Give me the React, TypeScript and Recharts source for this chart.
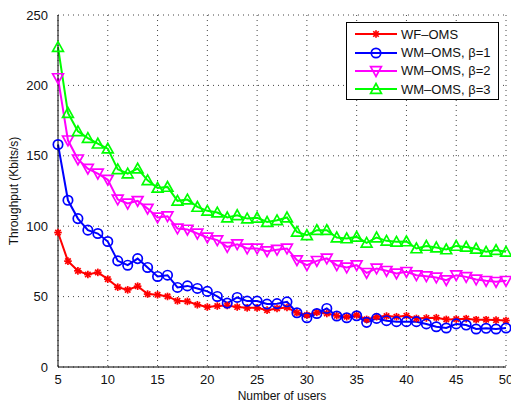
import React from "react"
import {
  CartesianGrid,
  Line,
  LineChart,
  XAxis,
  YAxis,
} from "recharts"

const users = [
  5, 6, 7, 8, 9, 10, 11, 12, 13, 14, 15, 16, 17, 18, 19, 20, 21, 22, 23, 24, 25, 26, 27,
  28, 29, 30, 31, 32, 33, 34, 35, 36, 37, 38, 39, 40, 41, 42, 43, 44, 45, 46, 47, 48, 49, 50,
]

const wfOms = [
  95.5, 75.2, 68.3, 65.7, 67.2, 62.4, 56.7, 54.8, 57.4, 51.8, 51.3, 50.1, 47, 46.6, 44.2,
  42.6, 43.3, 43.7, 42.6, 42, 42, 40.4, 41.6, 42.3, 38.5, 36.9, 38.8, 38, 36.4, 35.7, 36.9,
  33.8, 35.7, 36.2, 35.7, 36.4, 34.5, 34.8, 35, 33.8, 34, 34.3, 33.6, 33.6, 33.3, 33,
]

const wmBeta1 = [
  158, 118.4, 105.4, 97.2, 94.8, 89.1, 75.4, 72.3, 77, 70.7, 64.3, 65.2, 56.5, 57.6, 55.8,
  53.7, 50.1, 45.4, 49.4, 46.8, 46.8, 44.7, 45, 46.3, 38.5, 35, 38, 41.6, 36.2, 35, 36.4,
  31.7, 34.5, 32.9, 32.2, 32.2, 32.2, 30.6, 28.6, 27.7, 30.6, 29.8, 27, 27.5, 27, 27.7,
]

const wmBeta2 = [
  205.2, 161, 147.5, 140.9, 137.4, 133.1, 119, 116.1, 118, 112.5, 106.2, 107.1, 98.4, 97.6,
  94.8, 92, 90.1, 85.3, 87.2, 84.2, 84.2, 82.3, 83.3, 84.2, 75.9, 72.3, 75.4, 77.1, 72.3,
  70.7, 72.3, 66.9, 70, 68.3, 66.5, 67.6, 65.2, 64.5, 63.6, 61.7, 65.2, 64, 62.2, 61.2,
  60.5, 61.2,
]

const wmBeta3 = [
  227.2, 180.4, 167.4, 162.6, 158.6, 155.1, 140.4, 137.4, 140.9, 132.6, 127.2, 127.9, 118,
  118.9, 113.7, 110.9, 109.7, 106.2, 107.8, 105.4, 106, 103, 104.2, 106.2, 96, 93.6, 97.2,
  97.2, 92, 91.3, 92.4, 88.2, 92, 89.6, 88.9, 89.2, 84.2, 86, 84.9, 83.5, 86, 85.3, 84,
  81.8, 83, 81.8,
]

const xTicks = [5, 10, 15, 20, 25, 30, 35, 40, 45, 50]
const yTicks = [0, 50, 100, 150, 200, 250]

const seriesNames = ["WF\u2013OMS", "WM\u2013OMS, \u03b2=1", "WM\u2013OMS, \u03b2=2", "WM\u2013OMS, \u03b2=3"]

const data = users.map((u, i) => ({
  users: u,
  wf: wfOms[i],
  b1: wmBeta1[i],
  b2: wmBeta2[i],
  b3: wmBeta3[i],
}))

type Kind = "star" | "circle" | "down" | "up"

const Marker = ({ cx, cy, color, kind }: { cx: number; cy: number; color: string; kind: Kind }) => {
  if (cx == null || cy == null) return null
  if (kind === "star") {
    const r = 3.8
    const d = r * 0.72
    return (
      <g stroke={color} strokeWidth={1.7}>
        <line x1={cx - r} y1={cy} x2={cx + r} y2={cy} />
        <line x1={cx} y1={cy - r} x2={cx} y2={cy + r} />
        <line x1={cx - d} y1={cy - d} x2={cx + d} y2={cy + d} />
        <line x1={cx - d} y1={cy + d} x2={cx + d} y2={cy - d} />
      </g>
    )
  }
  if (kind === "circle") {
    return <circle cx={cx} cy={cy} r={4.7} fill="none" stroke={color} strokeWidth={1.7} />
  }
  const s = 5.4
  const pts =
    kind === "down"
      ? `${cx - s},${cy - s * 0.8} ${cx + s},${cy - s * 0.8} ${cx},${cy + s}`
      : `${cx - s},${cy + s * 0.8} ${cx + s},${cy + s * 0.8} ${cx},${cy - s}`
  return <polygon points={pts} fill="none" stroke={color} strokeWidth={1.7} />
}

const series: { key: string; color: string; kind: Kind }[] = [
  { key: "wf", color: "#ff0000", kind: "star" },
  { key: "b1", color: "#0000ff", kind: "circle" },
  { key: "b2", color: "#ff00ff", kind: "down" },
  { key: "b3", color: "#00ff00", kind: "up" },
]

const LegendBox = () => (
  <div
    style={{
      position: "absolute",
      left: 346,
      top: 22,
      border: "1.5px solid #000",
      background: "#fff",
      width: 151,
      height: 74,
      paddingTop: 2,
      fontFamily: "'Liberation Sans', Arial, sans-serif",
    }}
  >
    {series.map((s, i) => (
      <div key={s.key} style={{ display: "flex", alignItems: "center", height: 18.4 }}>
        <svg width={54} height={16}>
          <line x1={8} y1={8} x2={50} y2={8} stroke={s.color} strokeWidth={2} />
          <Marker cx={29} cy={8} color={s.color} kind={s.kind} />
        </svg>
        <span style={{ fontSize: 13, color: "#111", whiteSpace: "nowrap" }}>{seriesNames[i]}</span>
      </div>
    ))}
  </div>
)

export default function App() {
  return (
    <div
      style={{
        position: "absolute",
        left: 0,
        top: 0,
        width: 511,
        height: 403,
        background: "#fff",
        fontFamily: "'Liberation Sans', Arial, sans-serif",
      }}
    >
      <LineChart width={511} height={403} data={data} margin={{ top: 15, right: 5, bottom: 0, left: 0 }}>
        <CartesianGrid stroke="#444" strokeDasharray="1 4" />
        <XAxis
          dataKey="users"
          type="number"
          domain={[5, 50]}
          ticks={xTicks}
          interval={0}
          height={36}
          tickLine={false}
          axisLine={{ stroke: "#000", strokeWidth: 1 }}
          tick={{ fill: "#111", fontSize: 13 }}
          tickMargin={2}
          label={{ value: "Number of users", position: "insideBottom", offset: 3, fill: "#111", fontSize: 12 }}
        />
        <YAxis
          type="number"
          domain={[0, 250]}
          ticks={yTicks}
          interval={0}
          width={58}
          tickLine={false}
          axisLine={{ stroke: "#000", strokeWidth: 1 }}
          tick={{ fill: "#111", fontSize: 13 }}
          tickMargin={4}
          label={{
            value: "Throughput (Kbits/s)",
            angle: -90,
            position: "insideLeft",
            offset: 14,
            style: { textAnchor: "middle" },
            fill: "#111",
            fontSize: 12,
          }}
        />
        {series.map((s, i) => (
          <Line
            key={s.key}
            dataKey={s.key}
            name={seriesNames[i]}
            stroke={s.color}
            strokeWidth={2}
            isAnimationActive={false}
            dot={(p: any) => <Marker key={`${s.key}-${p.index}`} cx={p.cx} cy={p.cy} color={s.color} kind={s.kind} />}
            activeDot={false}
          />
        ))}
      </LineChart>
      <LegendBox />
    </div>
  )
}
